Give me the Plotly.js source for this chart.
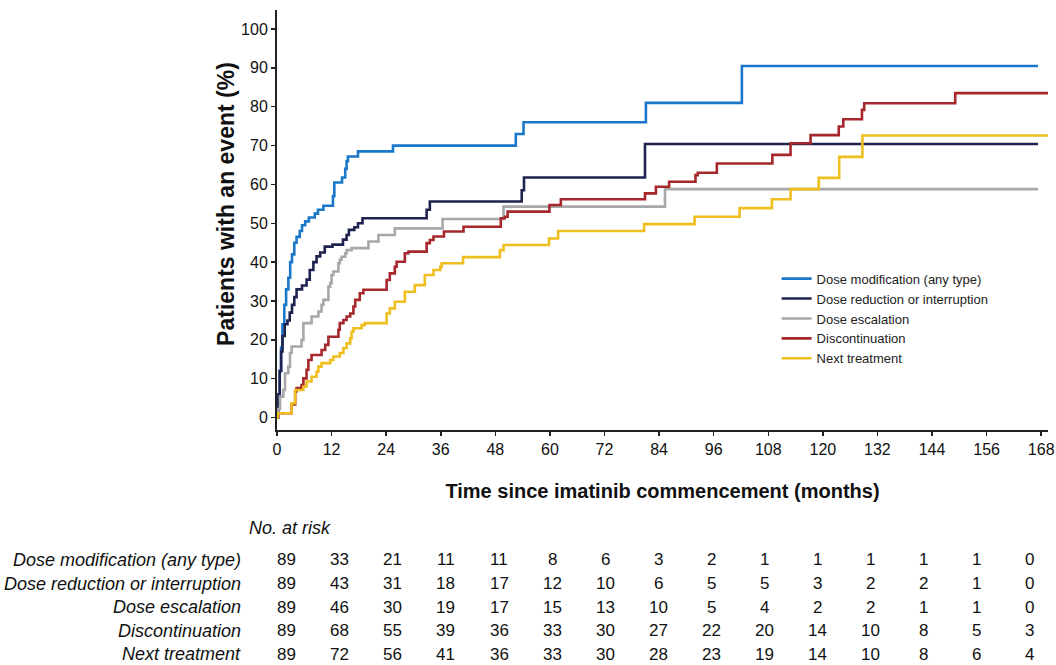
<!DOCTYPE html>
<html>
<head>
<meta charset="utf-8">
<script src="https://cdn.plot.ly/plotly-3.0.1.min.js"></script>
<style>
html,body{margin:0;padding:0;background:#fff;}
#chart{width:1056px;height:665px;}
</style>
</head>
<body>
<div id="chart"></div>
<script>
// ---- Data ----
const seriesNames = [
  "Dose modification (any type)",
  "Dose reduction or interruption",
  "Dose escalation",
  "Discontinuation",
  "Next treatment"
];

const modTime = [0,0.3,0.6,0.9,1.2,1.6,2.0,2.5,2.9,3.3,3.8,4.3,5.0,5.5,6.2,7.0,8.3,9.0,10.2,12.3,12.6,14.3,15.0,15.3,15.6,17.8,25.5,52.5,54.2,81.1,102.2,167.3];
const modPct  = [0,5,12,18,24,29,33,36,40,42,45,46.5,48,49.5,50.5,51.5,52.5,53.5,54.5,57,60.5,61.8,64,66,67.2,68.5,70,73,76,81,90.5,90.5];

const redTime = [0,0.3,0.6,0.9,1.2,1.7,2.3,2.8,3.3,3.8,4.3,5.5,6.5,7.2,8.0,8.7,9.5,10.5,12.2,14.5,15.3,15.8,17.0,17.8,18.8,32.9,33.6,53.8,54.3,80.9,167.3];
const redPct  = [0,6,12,17,21,24,25,27,29,31,33,34,35.5,38,40,41.5,42.5,44,44.5,45.8,47,48.3,49,50,51.3,53.5,55.6,58.5,61.8,70.4,70.4];

const escTime = [0,0.3,0.66,1.39,1.76,2.49,2.86,3.22,5.4,5.8,7.6,9.1,9.8,10.2,11.3,11.7,12.0,12.4,13.5,13.8,14.2,15.0,15.3,16.4,20.1,22.3,25.9,36.4,49.8,85.3,167.3];
const escPct  = [0,2.2,5.4,7.1,11.4,13.1,16.6,18.3,20,24.3,26,27.3,29,30.3,33.7,34.6,36.7,37.6,39.7,40.6,41.4,42.3,43.1,43.6,45.3,47,48.7,51.1,54.3,58.8,58.8];

const discTime = [0,0.2,3.2,4.0,4.3,5.4,5.8,6.5,6.9,7.6,9.8,10.6,11.3,13.5,13.8,14.6,15.3,16.1,16.8,17.2,18.2,19.0,24.1,24.8,25.9,26.3,28.1,28.9,32.9,33.6,34.4,36.7,41.0,49.2,50.1,50.7,59.9,62.4,80.9,83.3,86.2,92.0,92.5,96.7,108.9,112.9,117.3,123.5,124.5,128.6,129.1,149.1,169.5];
const discPct  = [0,1.1,3.4,6.7,7.6,8.4,10.1,12.3,14.8,16.1,17.4,18.7,20.8,22.6,24.3,25.1,26,26.8,28.6,30.3,32,32.9,35.4,37.1,38.8,40.1,42.3,42.7,44.9,45.7,46.6,47.9,49.1,51.3,51.7,53,54.7,56.2,57.7,59.4,60.7,62.4,63,65.4,67.6,70.6,72.7,74.9,76.8,79.2,80.9,83.5,83.5];

const nextTime = [0,0.2,3.2,4.0,5.8,6.5,7.6,8.7,9.1,9.8,11.7,12.4,13.8,14.6,15.3,16.1,16.4,16.8,18.6,19.3,24.1,24.8,25.9,28.1,30.3,32.5,34.4,35.9,36.2,40.9,49.0,49.8,59.8,61.8,80.7,91.8,101.7,108.8,112.9,119.1,123.6,128.7,169.5];
const nextPct  = [0,1.1,3.7,7.1,8,9.3,10.5,11.8,13.1,14,14.8,15.7,16.6,17.9,19.1,20.4,22.1,23,23.8,24.3,26.8,28.1,29.8,32.4,34.1,36.7,38,38.8,39.7,41.3,43.1,44.4,46.1,48,49.8,51.7,53.9,56.2,58.8,61.7,67.1,72.6,72.6];

// Number at risk table
const riskMonths = [0,12,24,36,48,60,72,84,96,108,120,132,144,156,168];
const riskMod  = [89,33,21,11,11,8,6,3,2,1,1,1,1,1,0];
const riskRed  = [89,43,31,18,17,12,10,6,5,5,3,2,2,1,0];
const riskEsc  = [89,46,30,19,17,15,13,10,5,4,2,2,1,1,0];
const riskDisc = [89,68,55,39,36,33,30,27,22,20,14,10,8,5,3];
const riskNext = [89,72,56,41,36,33,30,28,23,19,14,10,8,6,4];

const yTicks = [0,10,20,30,40,50,60,70,80,90,100];

// ---- Styles ----
const colors = ["#1b77c9","#1f2350","#a8a8a8","#a6282c","#efbe1f"];
const FONT = "Liberation Sans, Arial, Helvetica, sans-serif";

const times = [modTime, redTime, escTime, discTime, nextTime];
const pcts  = [modPct, redPct, escPct, discPct, nextPct];

const traces = seriesNames.map((name, i) => ({
  type: "scatter",
  mode: "lines",
  name: name,
  x: times[i],
  y: pcts[i],
  line: {shape: "hv", color: colors[i], width: 2.6},
  hoverinfo: "x+y+name"
}));

const riskRows = [riskMod, riskRed, riskEsc, riskDisc, riskNext];
const annotations = [];
const rowY0 = -0.3095, rowStep = 0.0561;
const LABEL_SIZE = 18, NUM_SIZE = 17;
annotations.push({
  xref: "paper", yref: "paper", x: -0.0393, y: -0.233,
  xanchor: "left", yanchor: "middle", showarrow: false,
  text: "<i>No. at risk</i>", font: {family: FONT, size: LABEL_SIZE, color: "#111"}
});
riskRows.forEach((row, r) => {
  const y = rowY0 - r * rowStep;
  annotations.push({
    xref: "paper", yref: "paper", x: -0.0441, y: y,
    xanchor: "right", yanchor: "middle", showarrow: false,
    text: "<i>" + seriesNames[r] + "</i>", font: {family: FONT, size: LABEL_SIZE, color: "#111"}
  });
  row.forEach((n, i) => {
    annotations.push({
      xref: "x", yref: "paper", x: riskMonths[i], y: y,
      xshift: 9.7 - 1.5 * i,
      xanchor: "center", yanchor: "middle", showarrow: false,
      text: String(n), font: {family: FONT, size: NUM_SIZE, color: "#111"}
    });
  });
});

const layout = {
  width: 1056, height: 665,
  margin: {l: 277, r: 8, t: 10, b: 235},
  paper_bgcolor: "#ffffff",
  plot_bgcolor: "#ffffff",
  font: {family: FONT, size: 16, color: "#111"},
  showlegend: true,
  legend: {
    x: 0.648, y: 0.396, xanchor: "left", yanchor: "top",
    font: {family: FONT, size: 13, color: "#222"},
    bgcolor: "rgba(255,255,255,0)", borderwidth: 0,
    itemwidth: 30, tracegroupgap: 0
  },
  xaxis: {
    range: [0, 169.5],
    tickvals: riskMonths,
    ticktext: riskMonths.map(String),
    ticks: "outside", ticklen: 4, tickwidth: 1.5, tickcolor: "#222",
    showline: true, linecolor: "#222", linewidth: 2,
    showgrid: false, zeroline: false,
    tickfont: {family: FONT, size: 16, color: "#111"},
    title: {text: "<b>Time since imatinib commencement (months)</b>",
            font: {family: FONT, size: 20, color: "#111"}, standoff: 27},
    automargin: false
  },
  yaxis: {
    range: [-3.2, 104.9],
    tickvals: yTicks,
    ticks: "outside", ticklen: 4, tickwidth: 1.5, tickcolor: "#222",
    showline: true, linecolor: "#222", linewidth: 2,
    showgrid: false, zeroline: false,
    tickfont: {family: FONT, size: 16, color: "#111"},
    title: {text: "&nbsp;&nbsp;&nbsp;&nbsp;&nbsp;<b>Patients with an event (%)</b>",
            font: {family: FONT, size: 23, color: "#111"}, standoff: 0},
    automargin: false
  },
  annotations: annotations
};

Plotly.newPlot("chart", traces, layout, {displayModeBar: false, staticPlot: true});
</script>
</body>
</html>
